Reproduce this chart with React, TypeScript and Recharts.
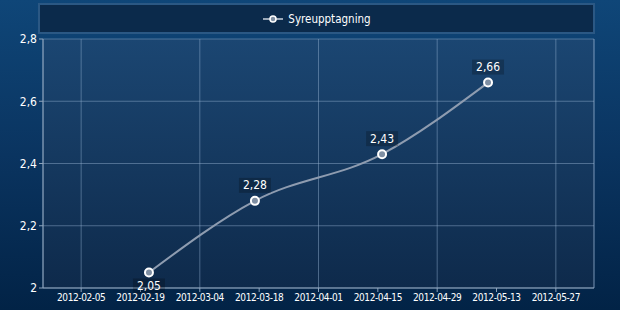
import {
  CartesianGrid,
  LabelList,
  Legend,
  Line,
  LineChart,
  ReferenceLine,
  XAxis,
  YAxis,
} from "recharts";

const dates = ["2012-02-21", "2012-03-17", "2012-04-16", "2012-05-11"];
const values = [2.05, 2.28, 2.43, 2.66];
const xTickDates = [
  "2012-02-05",
  "2012-02-19",
  "2012-03-04",
  "2012-03-18",
  "2012-04-01",
  "2012-04-15",
  "2012-04-29",
  "2012-05-13",
  "2012-05-27",
];
const yTicks = [2, 2.2, 2.4, 2.6, 2.8];
const seriesName = "Syreupptagning";

const DAY = 86400000;
const ts = (d: string) => Date.parse(d + "T00:00:00Z");
const xStart = ts("2012-01-27");
const xEnd = ts("2012-06-05");
const xTicks = xTickDates.map(ts);
const xMinor: number[] = [];
for (let t = xTicks[0] - 7 * DAY; t < xEnd; t += 7 * DAY) xMinor.push(t);
const yMinor: number[] = [];
for (let i = 0; i <= 20; i++) yMinor.push(+(2 + i * 0.04).toFixed(2));

const data = dates.map((d, i) => ({ t: ts(d), v: values[i] }));

const FONT = "'DejaVu Sans Condensed', 'DejaVu Sans', sans-serif";
const AXIS = "#8ea4bc";
const GRID = "rgba(150,180,210,0.45)";

const fmtDate = (t: number) => new Date(t).toISOString().slice(0, 10);
const fmtNum = (v: number) => String(v).replace(".", ",");

const LegendBox = () => (
  <div
    style={{
      boxSizing: "border-box",
      width: 557,
      height: 31,
      background: "#0b2a4b",
      border: "2px solid #2b5884",
      display: "flex",
      alignItems: "center",
      justifyContent: "center",
      fontFamily: FONT,
      fontSize: 11.5,
      color: "#ffffff",
    }}
  >
    <svg width={22} height={10} style={{ marginRight: 4 }}>
      <line x1={1} y1={5} x2={21} y2={5} stroke="#9aa8b8" strokeWidth={2} />
      <circle cx={11} cy={5} r={3} fill="#7f8fa3" stroke="#fff" strokeWidth={1.5} />
    </svg>
    <span>{seriesName}</span>
  </div>
);

const ValueLabel = (props: any) => {
  const { x, y, value } = props;
  const below = value < 2.1;
  const text = fmtNum(value);
  const w = text.length * 6 + 8;
  const h = 15;
  const top = below ? y + 6 : y - 8 - h;
  return (
    <g>
      <rect x={x - w / 2} y={top} width={w} height={h} fill="rgba(0,0,0,0.22)" />
      <text
        x={x}
        y={top + 11.5}
        textAnchor="middle"
        fill="#ffffff"
        fontFamily={FONT}
        fontSize={12}
      >
        {text}
      </text>
    </g>
  );
};

export default function App() {
  return (
    <div
      style={{
        position: "fixed",
        left: 0,
        top: 0,
        width: 620,
        height: 310,
        background: "linear-gradient(180deg, #0f4678 0%, #0a3460 50%, #022346 100%)",
      }}
    >
      <LineChart
        width={620}
        height={310}
        data={data}
        margin={{ top: 39, right: 26, bottom: 0, left: 0 }}
      >
        <defs>
          <linearGradient id="plotBg" x1="0" y1="0" x2="0" y2="1">
            <stop offset="0%" stopColor="#1b4672" />
            <stop offset="100%" stopColor="#0e2a4b" />
          </linearGradient>
        </defs>
        <CartesianGrid fill="url(#plotBg)" stroke={GRID} fillOpacity={1} />
        <XAxis
          xAxisId="minor"
          dataKey="t"
          type="number"
          domain={[xStart, xEnd]}
          ticks={xMinor}
          allowDataOverflow
          height={0}
          tick={false}
          tickSize={3}
          axisLine={false}
          tickLine={{ stroke: AXIS }}
        />
        <XAxis
          dataKey="t"
          type="number"
          domain={[xStart, xEnd]}
          ticks={xTicks}
          allowDataOverflow
          height={22}
          tickSize={4}
          tickFormatter={fmtDate}
          tick={{ fill: "#ffffff", fontSize: 10, fontFamily: FONT, letterSpacing: -0.4 }}
          axisLine={{ stroke: AXIS }}
          tickLine={{ stroke: AXIS }}
        />
        <YAxis
          yAxisId="minor"
          type="number"
          domain={[2, 2.8]}
          ticks={yMinor}
          allowDataOverflow
          width={0}
          tick={false}
          tickSize={3}
          axisLine={false}
          tickLine={{ stroke: AXIS }}
        />
        <YAxis
          type="number"
          domain={[2, 2.8]}
          ticks={yTicks}
          width={43}
          tickSize={4}
          tickFormatter={fmtNum}
          tick={{ fill: "#ffffff", fontSize: 12, fontFamily: FONT }}
          axisLine={{ stroke: AXIS }}
          tickLine={{ stroke: AXIS }}
        />
        <ReferenceLine x={xEnd} stroke={GRID} />
        <Legend
          verticalAlign="middle"
          align="center"
          layout="horizontal"
          content={() => <LegendBox />}
          wrapperStyle={{ top: 3, left: 38, width: 557 }}
        />
        <Line
          name={seriesName}
          type="monotone"
          dataKey="v"
          stroke="#8e9cb0"
          strokeWidth={2}
          dot={{ r: 4, fill: "#7f8fa3", stroke: "#ffffff", strokeWidth: 2 }}
          activeDot={false}
          isAnimationActive={false}
        >
          <LabelList dataKey="v" content={ValueLabel} />
        </Line>
      </LineChart>
    </div>
  );
}
